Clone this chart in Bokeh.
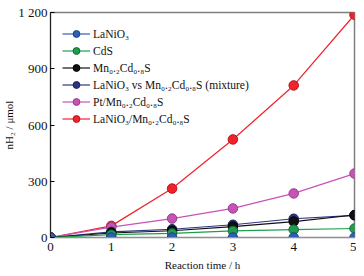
from bokeh.plotting import figure
from bokeh.models import FixedTicker, Range1d, Legend, LegendItem
from bokeh.embed import file_html
from bokeh.resources import INLINE

time_h = [0, 1, 2, 3, 4, 5]
lanio3 = [0, 0, 0, 0, 0, 0]
cds = [0, 15, 22, 35, 42, 48]
mcs = [0, 24, 36, 58, 85, 120]
mixture = [0, 30, 44, 68, 100, 118]
pt_mcs = [0, 55, 101, 155, 235, 341]
lanio3_mcs = [0, 62, 261, 523, 811, 1188]

series = [
    ("LaNiO₃", lanio3, "#2f5fb5", "#1c3f85"),
    ("CdS", cds, "#1e9e4e", "#0f6b30"),
    ("Mn₀.₂Cd₀.₈S", mcs, "#111111", "#000000"),
    ("LaNiO₃ vs Mn₀.₂Cd₀.₈S (mixture)", mixture, "#2c3580", "#1a1f5a"),
    ("Pt/Mn₀.₂Cd₀.₈S", pt_mcs, "#c853b6", "#963c88"),
    ("LaNiO₃/Mn₀.₂Cd₀.₈S", lanio3_mcs, "#f2222c", "#b5121a"),
]

y_ticks = [0, 300, 600, 900, 1200]
y_tick_labels = ["0", "300", "600", "900", "1 200"]
x_ticks = [0, 1, 2, 3, 4, 5]

FONT = "Liberation Serif"

p = figure(frame_width=304, frame_height=225, output_backend="svg", toolbar_location=None,
           x_range=Range1d(0, 5), y_range=Range1d(0, 1200),
           min_border_left=10, min_border_right=2, min_border_top=12, min_border_bottom=2)
p.grid.visible = False
p.outline_line_color = "#808080"
p.outline_line_width = 1.5
p.background_fill_color = "white"

renderers = {}
for name, vals, col, edge in series[::-1]:
    l = p.line(time_h, vals, line_color=col, line_width=1.2)
    c = p.scatter(time_h, vals, size=9.5, fill_color=col, line_color=edge, line_width=1)
    renderers[name] = [l, c]

items = [LegendItem(label=name, renderers=renderers[name]) for name, _, _, _ in series]

legend = Legend(items=items, location=(12, 110))
legend.label_text_font = FONT
legend.label_text_font_size = "11.5px"
legend.label_text_color = "#111111"
legend.glyph_width = 28
legend.glyph_height = 17
legend.label_height = 17
legend.spacing = 0
legend.padding = 0
legend.margin = 0
legend.border_line_color = None
legend.background_fill_alpha = 0
legend.label_standoff = 3
p.add_layout(legend)

p.yaxis.ticker = FixedTicker(ticks=y_ticks)
p.yaxis.major_label_overrides = {t: s for t, s in zip(y_ticks, y_tick_labels)}
p.xaxis.ticker = FixedTicker(ticks=x_ticks)
for ax in (p.xaxis, p.yaxis):
    ax.major_label_text_font = FONT
    ax.major_label_text_font_size = "13px"
    ax.major_label_text_color = "#111111"
    ax.axis_label_text_font = FONT
    ax.axis_label_text_font_size = "11px"
    ax.axis_label_text_font_style = "normal"
    ax.axis_label_text_color = "#111111"
    ax.minor_tick_line_color = None
p.yaxis.major_tick_in = 4
p.yaxis.major_tick_out = 0
p.yaxis.axis_line_color = "#222222"
p.xaxis.major_tick_in = 0
p.xaxis.major_tick_out = 0
p.xaxis.axis_line_color = "#8090c0"
p.yaxis.axis_label = "nH₂ / μmol"
p.xaxis.axis_label = "Reaction time / h"
p.xaxis.axis_label_standoff = 5
p.yaxis.axis_label_standoff = 0
p.xaxis.major_label_standoff = 5
p.yaxis.major_label_standoff = 3

open("out.html", "w").write(file_html(p, INLINE))
